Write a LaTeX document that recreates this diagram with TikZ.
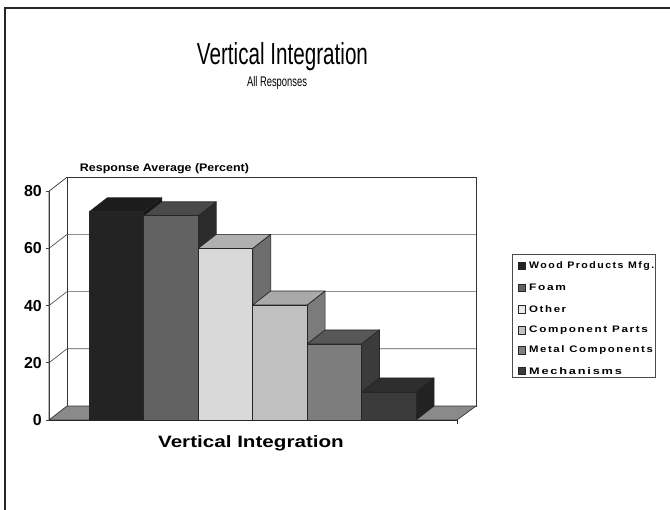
\documentclass[tikz,border=0pt]{standalone}
\usepackage{fontspec}
\setmainfont{Liberation Sans}
\newcommand{\fitw}[2]{\resizebox{#1}{\height}{#2}}
\definecolor{bAf}{HTML}{232323}\definecolor{bAt}{HTML}{1C1C1C}\definecolor{bAs}{HTML}{141414}
\definecolor{bBf}{HTML}{626262}\definecolor{bBt}{HTML}{4A4A4A}\definecolor{bBs}{HTML}{2C2C2C}
\definecolor{bCf}{HTML}{D9D9D9}\definecolor{bCt}{HTML}{B0B0B0}\definecolor{bCs}{HTML}{6E6E6E}
\definecolor{bDf}{HTML}{C0C0C0}\definecolor{bDt}{HTML}{A9A9A9}\definecolor{bDs}{HTML}{7B7B7B}
\definecolor{bEf}{HTML}{7D7D7D}\definecolor{bEt}{HTML}{575757}\definecolor{bEs}{HTML}{3B3B3B}
\definecolor{bFf}{HTML}{3B3B3B}\definecolor{bFt}{HTML}{2E2E2E}\definecolor{bFs}{HTML}{222222}
\definecolor{floorc}{HTML}{8A8A8A}
\definecolor{gridc}{HTML}{555555}
\begin{document}
\begin{tikzpicture}[x=1bp,y=-1bp,
  baredge/.style={draw=black!85, line width=0.7bp, line join=round},
  wall/.style={draw=black!80, line width=0.7bp},
  gridln/.style={draw=gridc, line width=0.7bp},
  ylab/.style={anchor=east, inner sep=0pt, font=\bfseries\fontsize{16}{18}\selectfont},
  legsq/.style={draw=black!85, line width=0.6bp, minimum size=7.5bp, inner sep=0pt},
  legtxt/.style={anchor=west, inner sep=0pt, font=\bfseries\fontsize{9.5}{11}\selectfont\addfontfeatures{LetterSpace=14}},
  plain/.style={inner sep=0pt}]
\useasboundingbox (0,0) rectangle (670,510);
\fill[white] (0,0) rectangle (670,510);
% frame
\draw[line width=2bp, draw=black!85] (5,512) -- (5,8) -- (672,8);
% titles
\node[plain, anchor=base] (title) at (282.5,65) {\fitw{171bp}{\fontsize{30.5}{34}\selectfont Vertical Integration}};
\node[plain, anchor=base] (subtitle) at (277,87) {\fitw{60bp}{\fontsize{14}{16}\selectfont All Responses}};
\node[plain, anchor=base] (yaxtitle) at (164.5,172) {\fitw{169bp}{\bfseries\fontsize{11}{13}\selectfont Response Average (Percent)}};
% chart frame coordinates
\coordinate (FL) at (49,420);
\coordinate (FR) at (457,420);
\coordinate (BL) at (67,406);
\coordinate (BR) at (476,406);
\coordinate (FT) at (49,191.2);
\coordinate (BTL) at (67,177.2);
\coordinate (BTR) at (476,177.2);
% back wall
\filldraw[fill=white, wall] (BL) rectangle (BTR);
% gridlines
\foreach \v in {20,40,60} {
  \pgfmathsetmacro\yf{420-\v*2.86}
  \pgfmathsetmacro\yb{406-\v*2.86}
  \draw[gridln] (49,\yf) -- (67,\yb) -- (476,\yb);
}
% left wall
\draw[wall] (FL) -- (FT) -- (BTL);
\draw[wall] (BTL) -- (BTR);
% floor
\filldraw[fill=floorc, wall] (FL) -- (FR) -- (BR) -- (BL) -- cycle;
% bars
\foreach \i/\v/\cf/\ct/\cs in {0/72.8/bAf/bAt/bAs, 1/71.4/bBf/bBt/bBs, 2/60/bCf/bCt/bCs, 3/40.2/bDf/bDt/bDs, 4/26.6/bEf/bEt/bEs, 5/9.8/bFf/bFt/bFs} {
  \pgfmathsetmacro\xa{89.3+\i*54.45}
  \pgfmathsetmacro\xb{\xa+54.45}
  \pgfmathsetmacro\yt{420-\v*2.86}
  \filldraw[fill=\cs, baredge] (\xb,420) -- (\xb,\yt) -- (\xb+18,\yt-14) -- (\xb+18,406) -- cycle;
  \filldraw[fill=\ct, baredge] (\xa,\yt) -- (\xb,\yt) -- (\xb+18,\yt-14) -- (\xa+18,\yt-14) -- cycle;
  \filldraw[fill=\cf, baredge] (\xa,420) rectangle (\xb,\yt);
}
% front axis lines and ticks
\draw[draw=black!85, line width=0.9bp] (46,420) -- (FR);
\draw[draw=black!85, line width=0.7bp] (FR) -- (457,423.5);
\draw[draw=black!75, line width=0.7bp] (FL) -- (FT);
\foreach \v in {0,20,40,60,80} {
  \pgfmathsetmacro\yf{420-\v*2.86}
  \draw[draw=black!75, line width=0.7bp] (46,\yf) -- (49,\yf);
}
% y labels
\node[ylab] (y80) at (42,191.2) {80};
\node[ylab] (y60) at (42,248.4) {60};
\node[ylab] (y40) at (42,305.6) {40};
\node[ylab] (y20) at (42,362.8) {20};
\node[ylab] (y0) at (42,420) {0};
% x title
\node[plain, anchor=base] (xtitle) at (251,447.3) {\fitw{185.7bp}{\bfseries\fontsize{16.5}{19}\selectfont Vertical Integration}};
% legend
\filldraw[fill=white, draw=black!70, line width=0.9bp] (512.3,254) rectangle (655.7,377.7);
\foreach \n/\y/\c/\w/\t in {
  a/266/bAf/125/{Wood Products Mfg.},
  b/287.7/bBf/36.7/{Foam},
  c/309.3/{black!8}/37/{Other},
  d/330.3/bDf/118.7/{Component Parts},
  e/350.3/{black!50}/123.7/{Metal Components},
  f/370.7/bFf/92.7/{Mechanisms}} {
  \node[legsq, fill=\c] (sq\n) at (522,\y) {};
  \node[legtxt] (lt\n) at (529,\y) {\fitw{\w bp}{\t}};
}
\end{tikzpicture}
\end{document}
